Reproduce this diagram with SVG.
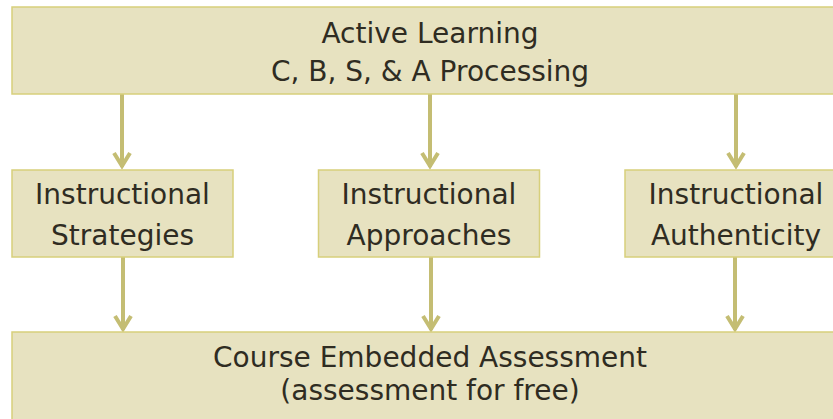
<svg xmlns="http://www.w3.org/2000/svg" width="833" height="419" viewBox="0 0 833 419">
<style>
.box{fill:#e7e2c0;stroke:#d7cf7b;stroke-width:1.5}
.t{font-family:"DejaVu Sans",sans-serif;font-size:28px;fill:#2f2c22;text-anchor:middle}
.c{stroke:#c4bd73;stroke-width:4;fill:none}
</style>
<defs>
<marker id="ah" markerUnits="userSpaceOnUse" markerWidth="24" markerHeight="24" viewBox="-18 -12 24 24" refX="0" refY="0" orient="auto">
<path d="M-14,-8 L-1,0 L-14,8" fill="none" stroke="#c4bd73" stroke-width="4"/>
</marker>
</defs>
<rect width="833" height="419" fill="#ffffff"/>
<g id="connectors">
<line class="c" x1="122" y1="94" x2="122" y2="167" marker-end="url(#ah)"/>
<line class="c" x1="430" y1="94" x2="430" y2="167" marker-end="url(#ah)"/>
<line class="c" x1="736" y1="94" x2="736" y2="167" marker-end="url(#ah)"/>
<line class="c" x1="123" y1="257" x2="123" y2="330" marker-end="url(#ah)"/>
<line class="c" x1="431" y1="257" x2="431" y2="330" marker-end="url(#ah)"/>
<line class="c" x1="735" y1="257" x2="735" y2="330" marker-end="url(#ah)"/>
</g>
<g id="active-learning">
<rect class="box" x="12" y="7" width="836" height="87"/>
<text class="t" x="430" y="43">Active Learning</text>
<text class="t" x="430" y="81">C, B, S, &amp; A Processing</text>
</g>
<g id="strategies">
<rect class="box" x="12" y="170" width="221" height="87"/>
<text class="t" x="122.5" y="204">Instructional</text>
<text class="t" x="122.5" y="245">Strategies</text>
</g>
<g id="approaches">
<rect class="box" x="318.5" y="170" width="221" height="87"/>
<text class="t" x="429" y="204">Instructional</text>
<text class="t" x="429" y="245">Approaches</text>
</g>
<g id="authenticity">
<rect class="box" x="625" y="170" width="222" height="87"/>
<text class="t" x="736" y="204">Instructional</text>
<text class="t" x="736" y="245">Authenticity</text>
</g>
<g id="assessment">
<rect class="box" x="12" y="332" width="836" height="95"/>
<text class="t" x="430" y="367">Course Embedded Assessment</text>
<text class="t" x="430" y="400">(assessment for free)</text>
</g>
</svg>
